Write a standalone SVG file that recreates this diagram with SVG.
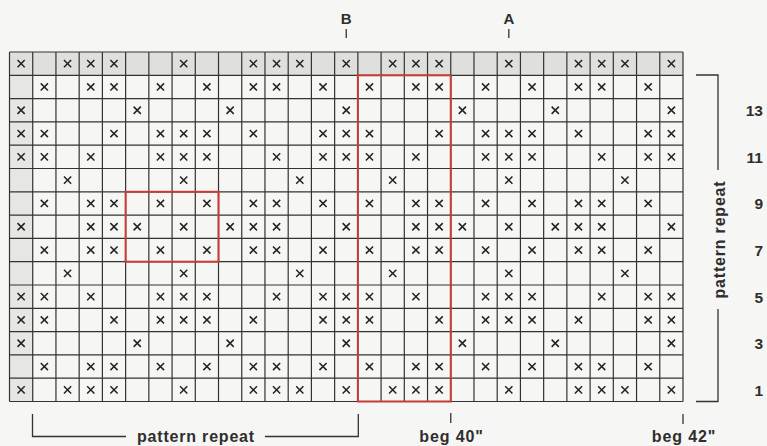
<svg xmlns="http://www.w3.org/2000/svg" width="767" height="446" viewBox="0 0 767 446">
<style>
.grid{fill:none;stroke:#333;stroke-width:1.2}
.red{fill:none;stroke:#c63c37;stroke-width:2}
.ln{fill:none;stroke:#333;stroke-width:1.3}
.t{font-family:"Liberation Sans",Arial,sans-serif;font-weight:bold;fill:#2e2e2e}
</style>
<defs>
<path id="x" d="M-3.6,-3.6L3.6,3.6M3.6,-3.6L-3.6,3.6" stroke="#222" stroke-width="1.5" fill="none"/>
<g id="rA"><use href="#x" x="21.11"/><use href="#x" x="67.56"/><use href="#x" x="90.78"/><use href="#x" x="114.01"/><use href="#x" x="183.68"/><use href="#x" x="253.35"/><use href="#x" x="276.58"/><use href="#x" x="299.80"/><use href="#x" x="346.25"/><use href="#x" x="392.70"/><use href="#x" x="415.92"/><use href="#x" x="439.14"/><use href="#x" x="508.82"/><use href="#x" x="578.49"/><use href="#x" x="601.71"/><use href="#x" x="624.94"/><use href="#x" x="671.38"/></g>
<g id="rB"><use href="#x" x="44.34"/><use href="#x" x="90.78"/><use href="#x" x="114.01"/><use href="#x" x="160.46"/><use href="#x" x="206.90"/><use href="#x" x="253.35"/><use href="#x" x="276.58"/><use href="#x" x="323.02"/><use href="#x" x="369.47"/><use href="#x" x="415.92"/><use href="#x" x="439.14"/><use href="#x" x="485.59"/><use href="#x" x="532.04"/><use href="#x" x="578.49"/><use href="#x" x="601.71"/><use href="#x" x="648.16"/></g>
<g id="rC"><use href="#x" x="21.11"/><use href="#x" x="137.23"/><use href="#x" x="230.13"/><use href="#x" x="346.25"/><use href="#x" x="462.37"/><use href="#x" x="555.26"/><use href="#x" x="671.38"/></g>
<g id="rD"><use href="#x" x="21.11"/><use href="#x" x="44.34"/><use href="#x" x="114.01"/><use href="#x" x="160.46"/><use href="#x" x="183.68"/><use href="#x" x="206.90"/><use href="#x" x="253.35"/><use href="#x" x="323.02"/><use href="#x" x="346.25"/><use href="#x" x="369.47"/><use href="#x" x="439.14"/><use href="#x" x="485.59"/><use href="#x" x="508.82"/><use href="#x" x="532.04"/><use href="#x" x="578.49"/><use href="#x" x="648.16"/><use href="#x" x="671.38"/></g>
<g id="rE"><use href="#x" x="21.11"/><use href="#x" x="44.34"/><use href="#x" x="90.78"/><use href="#x" x="160.46"/><use href="#x" x="183.68"/><use href="#x" x="206.90"/><use href="#x" x="276.58"/><use href="#x" x="323.02"/><use href="#x" x="346.25"/><use href="#x" x="369.47"/><use href="#x" x="415.92"/><use href="#x" x="485.59"/><use href="#x" x="508.82"/><use href="#x" x="532.04"/><use href="#x" x="601.71"/><use href="#x" x="648.16"/><use href="#x" x="671.38"/></g>
<g id="rF"><use href="#x" x="67.56"/><use href="#x" x="183.68"/><use href="#x" x="299.80"/><use href="#x" x="392.70"/><use href="#x" x="508.82"/><use href="#x" x="624.94"/></g>
<g id="rG"><use href="#x" x="21.11"/><use href="#x" x="90.78"/><use href="#x" x="114.01"/><use href="#x" x="137.23"/><use href="#x" x="183.68"/><use href="#x" x="230.13"/><use href="#x" x="253.35"/><use href="#x" x="276.58"/><use href="#x" x="346.25"/><use href="#x" x="415.92"/><use href="#x" x="439.14"/><use href="#x" x="462.37"/><use href="#x" x="508.82"/><use href="#x" x="555.26"/><use href="#x" x="578.49"/><use href="#x" x="601.71"/><use href="#x" x="671.38"/></g>
</defs>
<rect width="767" height="446" fill="#f6f6f4"/>
<g id="shading">
<rect x="9.5" y="75.3" width="23.22" height="326.2" fill="#e6e6e4"/>
<rect x="9.5" y="52" width="673.5" height="23.3" fill="#dfdfdd"/>
</g>
<g id="marks">
<use href="#rA" y="63.65"/>
<use href="#rB" y="86.95"/>
<use href="#rC" y="110.25"/>
<use href="#rD" y="133.55"/>
<use href="#rE" y="156.85"/>
<use href="#rF" y="180.15"/>
<use href="#rB" y="203.45"/>
<use href="#rG" y="226.75"/>
<use href="#rB" y="250.05"/>
<use href="#rF" y="273.35"/>
<use href="#rE" y="296.65"/>
<use href="#rD" y="319.95"/>
<use href="#rC" y="343.25"/>
<use href="#rB" y="366.55"/>
<use href="#rA" y="389.85"/>
</g>
<path id="gridlines" class="grid" d="M9.5 52V401.5M32.72 52V401.5M55.95 52V401.5M79.17 52V401.5M102.4 52V401.5M125.62 52V401.5M148.84 52V401.5M172.07 52V401.5M195.29 52V401.5M218.52 52V401.5M241.74 52V401.5M264.96 52V401.5M288.19 52V401.5M311.41 52V401.5M334.64 52V401.5M357.86 52V401.5M381.08 52V401.5M404.31 52V401.5M427.53 52V401.5M450.76 52V401.5M473.98 52V401.5M497.2 52V401.5M520.43 52V401.5M543.65 52V401.5M566.88 52V401.5M590.1 52V401.5M613.32 52V401.5M636.55 52V401.5M659.77 52V401.5M683 52V401.5M9.5 52H683M9.5 75.3H683M9.5 98.6H683M9.5 121.9H683M9.5 145.2H683M9.5 168.5H683M9.5 191.8H683M9.5 215.1H683M9.5 238.4H683M9.5 261.7H683M9.5 285H683M9.5 308.3H683M9.5 331.6H683M9.5 354.9H683M9.5 378.2H683M9.5 401.5H683"/>
<g id="repeats">
<rect class="red" x="357.86" y="75.3" width="92.9" height="326.2"/>
<rect class="red" x="125.62" y="191.8" width="92.9" height="69.9"/>
</g>
<g id="connectors">
<path class="ln" d="M346.25 29V38M508.82 29V38"/>
<path class="ln" d="M450.76 413V423M683 414V424"/>
<path class="ln" d="M32.5 414V436.5H126M265 436.5H358.3V414"/>
<path class="ln" d="M696 75H718V170M718 309V401.5H696"/>
</g>
<g id="labels">
<text class="t" x="346.25" y="23.5" font-size="15" text-anchor="middle">B</text>
<text class="t" x="508.82" y="23.5" font-size="15" text-anchor="middle">A</text>
<text class="t" x="196" y="442" font-size="16" letter-spacing="0.8" text-anchor="middle">pattern repeat</text>
<text class="t" x="451.5" y="442" font-size="16" letter-spacing="0.9" text-anchor="middle">beg 40"</text>
<text class="t" x="684" y="442" font-size="16" letter-spacing="0.9" text-anchor="middle">beg 42"</text>
<text class="t" transform="translate(725,239.5) rotate(-90)" font-size="16" letter-spacing="0.8" text-anchor="middle">pattern repeat</text>
<text class="t" x="763" y="116.25" font-size="15.5" text-anchor="end">13</text>
<text class="t" x="763" y="162.85" font-size="15.5" text-anchor="end">11</text>
<text class="t" x="763" y="209.45" font-size="15.5" text-anchor="end">9</text>
<text class="t" x="763" y="256.05" font-size="15.5" text-anchor="end">7</text>
<text class="t" x="763" y="302.65" font-size="15.5" text-anchor="end">5</text>
<text class="t" x="763" y="349.25" font-size="15.5" text-anchor="end">3</text>
<text class="t" x="763" y="395.85" font-size="15.5" text-anchor="end">1</text>
</g>
</svg>
